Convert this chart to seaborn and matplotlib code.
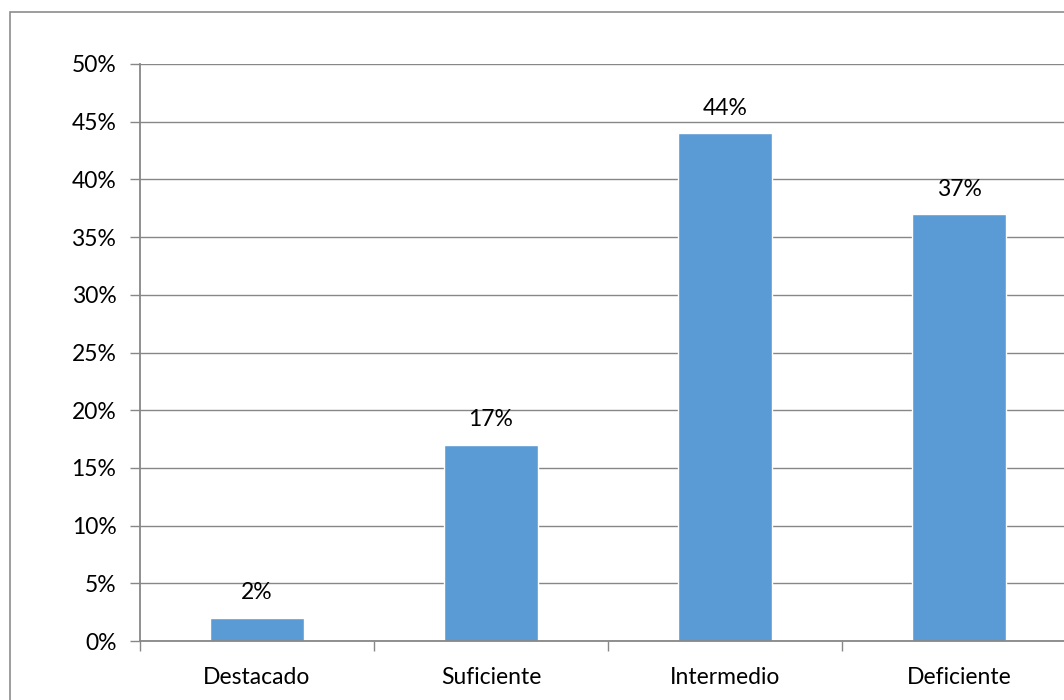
import matplotlib
matplotlib.use("Agg")
import matplotlib.pyplot as plt
import seaborn as sns
import pandas as pd
from matplotlib.patches import Rectangle

categories = ["Destacado", "Suficiente", "Intermedio", "Deficiente"]
values = [2, 17, 44, 37]
labels = ["2%", "17%", "44%", "37%"]
yticks = [0, 5, 10, 15, 20, 25, 30, 35, 40, 45, 50]

sns.set_theme(style="white")
plt.rcParams['font.family'] = ['Lato', 'DejaVu Sans']

W, H = 1064, 700
fig = plt.figure(figsize=(W / 100, H / 100), dpi=100)
fig.patch.set_facecolor("white")

left, right, top, bottom = 140, 1076, 64, 641
ax = fig.add_axes([left / W, (H - bottom) / H, (right - left) / W, (bottom - top) / H])

df = pd.DataFrame({"cat": categories, "val": values})
sns.barplot(data=df, x="cat", y="val", color="#5B9BD5", width=0.4, saturation=1, ax=ax)

grid_c = "#878787"
fs = 16.5
ax.set_ylim(0, 50)
ax.set_xlim(-0.5, 3.5)
ax.set_yticks(yticks)
ax.set_yticklabels([f"{t}%" for t in yticks])
ax.yaxis.grid(True, color=grid_c, linewidth=1)
ax.set_axisbelow(True)
ax.set_xlabel("")
ax.set_ylabel("")

for s in ["top", "right"]:
    ax.spines[s].set_visible(False)
for s in ["left", "bottom"]:
    ax.spines[s].set_color(grid_c)
    ax.spines[s].set_linewidth(1.3)

ax.tick_params(axis="y", which="major", left=True, length=7, width=1, color=grid_c,
               labelsize=fs, pad=10, labelcolor="black")
ax.set_xticks([0, 1, 2, 3])
ax.set_xticklabels(categories)
ax.tick_params(axis="x", which="major", bottom=False, labelsize=fs, pad=12.5, labelcolor="black")
ax.set_xticks([-0.5, 0.5, 1.5, 2.5], minor=True)
ax.tick_params(axis="x", which="minor", bottom=True, length=7, width=1, color=grid_c)

for i, (v, lab) in enumerate(zip(values, labels)):
    ax.text(i, v + 1.25, lab, ha="center", va="bottom", fontsize=fs, color="black")

fig.patches.append(Rectangle((10 / W, -0.05), (W + 10) / W, (H - 12) / H + 0.05, transform=fig.transFigure,
                             fill=False, edgecolor="#8c8c8c", linewidth=1.2, clip_on=False))

fig.savefig("out.png", dpi=100)
